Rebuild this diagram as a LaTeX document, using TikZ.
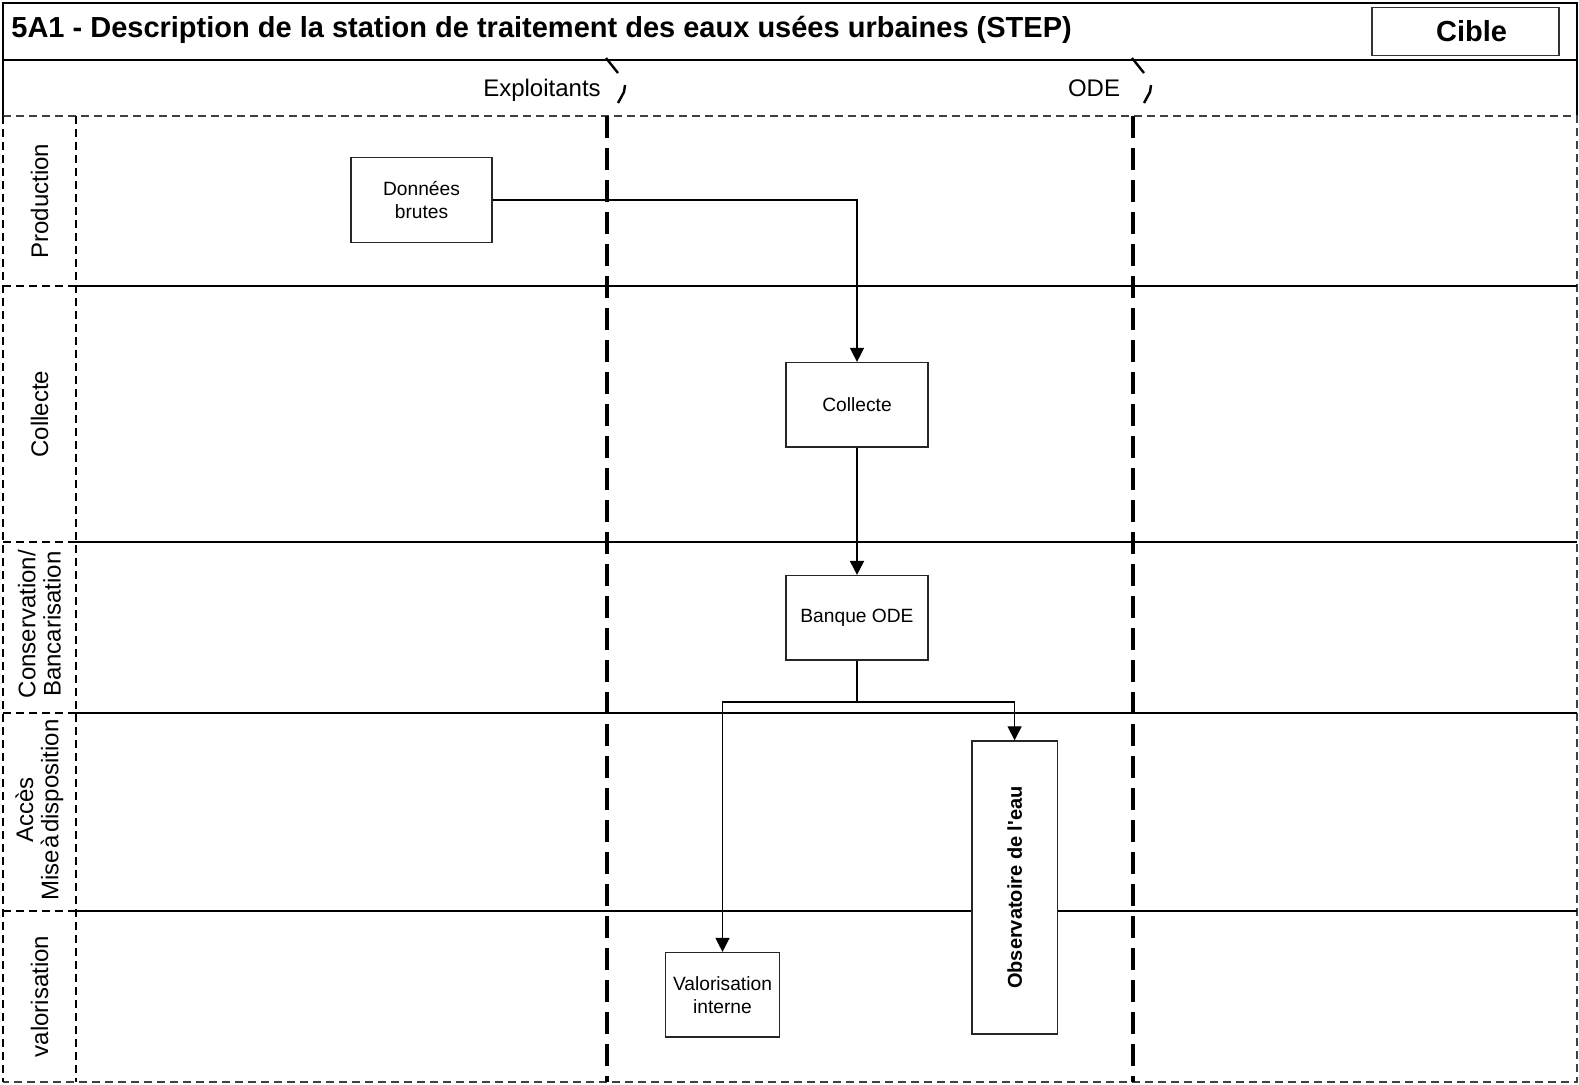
\documentclass[tikz,border=0pt]{standalone}
\usepackage{fontspec}
\setmainfont{Liberation Sans}
\newfontfamily\obsfont{Liberation Sans}
\usetikzlibrary{arrows.meta}

\tikzset{
  box/.style={draw=black!85, line width=0.7pt, fill=white, inner sep=0pt, align=center,
    font=\fontsize{9.6}{11.5}\selectfont},
  lanelabel/.style={rotate=90, align=center, inner sep=0pt, font=\fontsize{12}{12.6}\selectfont},
  actorlabel/.style={anchor=base, inner sep=0pt, font=\fontsize{12}{14}\selectfont},
  flow/.style={line width=0.65pt, -{Triangle[length=7pt, width=7pt]}},
  laneline/.style={line width=0.9pt},
  labelgrid/.style={line width=0.8pt, dash pattern=on 4pt off 2.5pt},
  actorsep/.style={line width=1.6pt, dash pattern=on 11pt off 5pt},
}

\begin{document}
\begin{tikzpicture}[x=0.5pt, y=-0.5pt]
  \useasboundingbox (0,0) rectangle (1579,1084);
  % frame, title and actors band
  \draw[line width=0.8pt] (3,116) -- (3,3) -- (1577,3) -- (1577,116);
  \draw[line width=0.8pt] (3,60) -- (1577,60);
  \node[anchor=base west, inner sep=0pt, font=\fontsize{14.5}{16}\bfseries] (title) at (11,37.5)
    {5A1 - Description de la station de traitement des eaux usées urbaines (STEP)};
  \node[draw=black!80, line width=0.7pt, minimum width=93.5pt, minimum height=24pt,
    font=\fontsize{14.5}{16}\bfseries] (cible) at (1465.5,31.5) {\hspace{6pt}Cible};
  \node[actorlabel] (exploitants) at (542,96) {Exploitants};
  \node[actorlabel] (ode) at (1094,96) {ODE};
  % lanes
  \draw[labelgrid, draw=black!75] (3,116) -- (1577,116) -- (1577,1082) -- (3,1082);
  \draw[labelgrid] (3,116) -- (3,1082);
  \draw[labelgrid] (76,116) -- (76,1082);
  \foreach \ly in {286,542,713,911} {
    \draw[laneline] (76,\ly) -- (1577,\ly);
    \draw[labelgrid] (3,\ly) -- (76,\ly);
  }
  \node[lanelabel] (lprod) at (39.5,201) {Production};
  \node[lanelabel] (lcoll) at (39.5,414) {Collecte};
  \node[lanelabel] (lcons) at (39.5,624) {Conservation/\\Bancarisation};
  \node[lanelabel] (lacces) at (39.5,810) {Accès\\Mise\kern1pt à\kern1pt disposition};
  \node[lanelabel] (lvalo) at (39.5,996.5) {valorisation};
  % actor separators with their break marks
  \foreach \sx in {607,1133} {
    \draw[actorsep] (\sx,116) -- (\sx,1082);
    \draw[line width=1.2pt] (\sx-1,58) -- (\sx+11,73) (\sx+18,85) -- (\sx+17,92) -- (\sx+11,103);
  }
  % steps
  \node[box, minimum width=70.5pt, minimum height=42.7pt] (donnees) at (421.5,200) {Données\\brutes};
  \node[box, minimum width=71pt, minimum height=42.2pt] (collecte) at (857,404.8) {Collecte};
  \node[box, minimum width=71pt, minimum height=42.2pt] (banque) at (857,617.8) {Banque ODE};
  \node[box, minimum width=56.9pt, minimum height=42.2pt] (valo) at (722.5,994.8) {Valorisation\\interne};
  \node[box, rotate=90, minimum width=146.5pt, minimum height=42.8pt,
    font=\obsfont\fontsize{10}{12}\bfseries] (obs) at (1014.6,887.5) {Observatoire de l\textquotesingle eau};
  % flows
  \coordinate (split) at (857,702);
  \draw[flow] (donnees.east) -| (collecte.north);
  \draw[flow, line width=1pt] (collecte) -- (banque);
  \draw[line width=1pt] (banque.south) -- (split);
  \draw[flow] (split) -| (valo.north);
  \draw[flow] (split) -| (obs.east);
\end{tikzpicture}
\end{document}
